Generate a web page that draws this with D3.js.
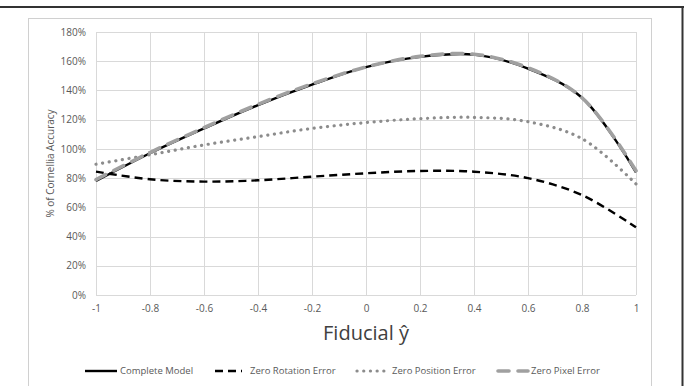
<!DOCTYPE html>
<html>
<head>
<meta charset="utf-8">
<script src="https://cdn.jsdelivr.net/npm/d3@7"></script>
<style>
  body { margin: 0; background: #fff; }
  svg { display: block; font-family: "Open Sans", "Noto Sans", sans-serif; }
</style>
</head>
<body>
<div id="chart"></div>
<script>
// fiducial positions
const xValues = [-1, -0.8, -0.6, -0.4, -0.2, 0, 0.2, 0.4, 0.6, 0.8, 1];

// % of Cornellia accuracy per series
const completeModel = [78, 97, 114, 130, 144, 156, 163, 164.5, 155, 135, 84];
const zeroRotation = [84.4, 79.2, 77.6, 78.5, 81, 83.3, 84.9, 84.4, 80, 68.4, 46.3];
const zeroPosition = [89.5, 96, 102.7, 108.4, 114, 118, 120.7, 121.6, 118.6, 107, 76];
const zeroPixel = [79, 97.5, 114.5, 130.5, 144.5, 156, 163.3, 164.8, 155.5, 135, 85];

const xTicks = [-1, -0.8, -0.6, -0.4, -0.2, 0, 0.2, 0.4, 0.6, 0.8, 1];
const yTicks = [0, 20, 40, 60, 80, 100, 120, 140, 160, 180];

const series = [
  { name: 'Complete Model', values: completeModel, color: '#000', width: 2.4, dash: null, cap: 'butt' },
  { name: 'Zero Rotation Error', values: zeroRotation, color: '#000', width: 2.4, dash: '8,5', cap: 'butt' },
  { name: 'Zero Position Error', values: zeroPosition, color: '#8c8c8c', width: 3.2, dash: '0.1,6.6', cap: 'round' },
  { name: 'Zero Pixel Error', values: zeroPixel, color: '#a0a0a0', width: 3.6, dash: '11,9', cap: 'round' }
];

const width = 684, height = 386;
const margin = { top: 32, right: 48, bottom: 91, left: 96 };

const svg = d3.select('#chart').append('svg')
  .attr('width', width)
  .attr('height', height);

// outer frame
svg.append('line')
  .attr('x1', 0).attr('x2', width).attr('y1', 7).attr('y2', 7)
  .style('stroke', '#333').style('stroke-width', 2);
svg.append('line')
  .attr('x1', 682.5).attr('x2', 682.5).attr('y1', 7).attr('y2', height)
  .style('stroke', '#333').style('stroke-width', 2);

// chart area border
svg.append('rect')
  .attr('x', 28.5).attr('y', 18.5)
  .attr('width', 623).attr('height', 400)
  .style('fill', 'none').style('stroke', '#d0d0d0').style('stroke-width', 1);

const x = d3.scaleLinear()
  .domain([-1, 1])
  .range([margin.left, width - margin.right]);

const y = d3.scaleLinear()
  .domain([0, 180])
  .range([height - margin.bottom, margin.top]);

// gridlines
svg.append('g')
  .selectAll('line')
  .data(yTicks)
  .enter().append('line')
  .attr('x1', x(-1)).attr('x2', x(1))
  .attr('y1', d => Math.round(y(d)) + 0.5).attr('y2', d => Math.round(y(d)) + 0.5)
  .style('stroke', '#d9d9d9').style('stroke-width', 1);

svg.append('g')
  .selectAll('line')
  .data(xTicks)
  .enter().append('line')
  .attr('x1', d => Math.round(x(d)) + 0.5).attr('x2', d => Math.round(x(d)) + 0.5)
  .attr('y1', y(0)).attr('y2', y(180))
  .style('stroke', '#d9d9d9').style('stroke-width', 1);

// axes
const xAxis = d3.axisBottom(x)
  .tickValues(xTicks)
  .tickSize(0)
  .tickPadding(10)
  .tickFormat(d => d3.format('')(d).replace('−', '-'));

svg.append('g')
  .attr('transform', 'translate(0,' + y(0) + ')')
  .call(xAxis)
  .call(g => g.select('.domain').remove())
  .selectAll('text')
  .style('font-size', '10px')
  .style('fill', '#595959')
  .style('font-family', '"Open Sans", sans-serif');

const yAxis = d3.axisLeft(y)
  .tickValues(yTicks)
  .tickSize(0)
  .tickPadding(10)
  .tickFormat(d => d + '%');

svg.append('g')
  .attr('transform', 'translate(' + x(-1) + ',0)')
  .call(yAxis)
  .call(g => g.select('.domain').remove())
  .selectAll('text')
  .style('font-size', '10px')
  .style('fill', '#595959')
  .style('font-family', '"Open Sans", sans-serif');

// axis titles
svg.append('text')
  .attr('x', (x(-1) + x(1)) / 2)
  .attr('y', 340)
  .attr('text-anchor', 'middle')
  .style('font-size', '20px')
  .style('fill', '#404040')
  .text('Fiducial ŷ');

svg.append('text')
  .attr('transform', 'translate(54,' + (y(0) + y(180)) / 2 + ') rotate(-90)')
  .attr('text-anchor', 'middle')
  .style('font-size', '10px')
  .style('fill', '#595959')
  .text('% of Cornellia Accuracy');

// lines
const line = d3.line()
  .x((d, i) => x(xValues[i]))
  .y(d => y(d))
  .curve(d3.curveCatmullRom.alpha(0.5));

svg.append('g')
  .selectAll('path')
  .data(series)
  .enter().append('path')
  .attr('d', d => line(d.values))
  .style('fill', 'none')
  .style('stroke', d => d.color)
  .style('stroke-width', d => d.width)
  .style('stroke-dasharray', d => d.dash)
  .style('stroke-linecap', d => d.cap);

// legend
const legendItems = [
  { s: series[0], x1: 85, x2: 117, tx: 120 },
  { s: series[1], x1: 215, x2: 242, tx: 250 },
  { s: series[2], x1: 357, x2: 388, tx: 392 },
  { s: series[3], x1: 498, x2: 528, tx: 531 }
];

const legend = svg.append('g').attr('class', 'legend');
const ly = 371;

legendItems.forEach(item => {
  legend.append('line')
    .attr('x1', item.x1).attr('x2', item.x2)
    .attr('y1', ly).attr('y2', ly)
    .style('stroke', item.s.color)
    .style('stroke-width', item.s.width)
    .style('stroke-dasharray', item.s.dash)
    .style('stroke-linecap', item.s.cap);
  legend.append('text')
    .attr('x', item.tx)
    .attr('y', ly)
    .attr('dy', '.35em')
    .style('font-size', '9.5px')
    .style('fill', '#595959')
    .text(item.s.name);
});
</script>
</body>
</html>
